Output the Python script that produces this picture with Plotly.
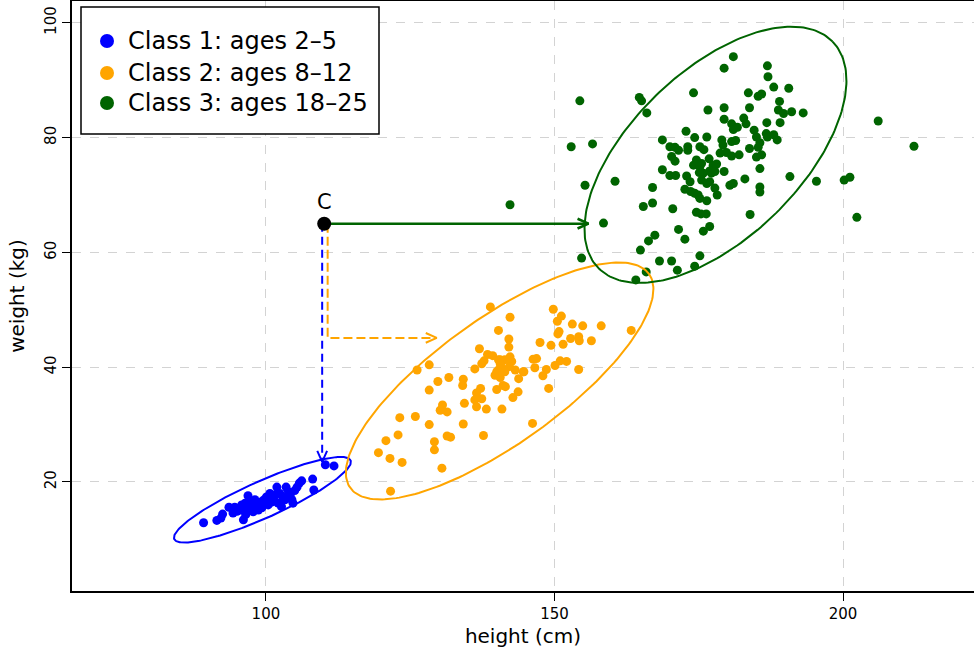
import numpy as np
import plotly.graph_objects as go

# ---- measurements: height (cm), weight (kg) ----
class1_height = [89.2, 91.5, 92.2, 92.5, 93.6, 95.0, 96.1, 96.5, 95.8, 96.4, 96.9, 97.2, 97.8,
                 98.1, 98.7, 99.3, 100.1, 100.4, 100.7, 101.3, 101.9, 102.1, 102.7, 102.4,
                 103.5, 103.9, 104.5, 104.7, 105.0, 105.8, 106.2, 108.1, 108.3, 110.3, 111.8,
                 94.6, 95.5, 97.6, 98.3, 99.3, 99.7, 101.0, 102.9, 103.3, 104.2, 96.7, 98.8,
                 101.6, 94.3, 105.4]
class1_weight = [12.9, 13.3, 13.7, 14.4, 15.6, 14.9, 13.4, 14.3, 16.0, 16.3, 17.6, 15.7, 14.8,
                 16.9, 15.1, 16.6, 17.4, 16.0, 18.0, 17.2, 19.1, 16.3, 15.7, 18.0,
                 19.1, 18.3, 16.9, 16.3, 18.5, 19.8, 20.2, 20.5, 18.6, 23.0, 22.8,
                 15.6, 15.1, 16.5, 15.6, 15.5, 16.9, 16.5, 17.4, 16.9, 17.7, 15.1, 16.0,
                 17.7, 14.6, 19.1]

class2_height = [138.9, 140.3, 137.0, 138.4, 139.3, 137.8, 137.4, 136.2, 140.3, 140.0, 139.7,
                 128.3, 126.2, 129.8, 131.7, 134.2, 134.1, 128.3, 140.0, 137.2, 136.5, 136.2,
                 136.5, 137.4, 134.4, 130.6, 130.2, 131.4, 138.2, 123.2, 125.9, 128.3, 134.2,
                 122.9, 120.8, 131.4, 132.0, 137.7, 129.2, 129.2, 119.5, 121.5, 123.6, 130.5,
                 121.6, 149.8, 151.2, 150.5, 153.1, 154.9, 158.1, 163.3, 142.3, 150.8, 150.6,
                 152.8, 154.2, 154.3, 156.4, 142.1, 142.1, 147.5, 149.4, 151.5, 140.6, 141.4,
                 142.3, 142.6, 146.3, 146.9, 151.0, 152.1, 150.1, 146.6, 148.6, 154.2, 140.6,
                 143.2, 143.8, 144.6, 148.0, 141.1, 141.5, 143.7, 142.8, 149.0, 140.9, 146.2,
                 140.6, 142.2, 140.3, 140.8, 141.4, 144.7]
class2_weight = [50.5, 46.4, 43.2, 42.2, 42.0, 41.1, 40.6, 39.7, 41.3, 39.2, 38.6,
                 40.4, 39.5, 37.5, 38.2, 37.9, 36.8, 36.0, 36.1, 36.3, 35.5, 34.3,
                 33.1, 34.5, 33.7, 33.4, 32.5, 32.2, 32.7, 31.2, 31.4, 30.0, 30.1,
                 28.2, 27.2, 28.0, 27.8, 28.1, 27.0, 25.6, 25.1, 24.1, 23.4, 22.4,
                 18.4, 50.1, 48.9, 48.0, 47.5, 47.2, 47.2, 46.4, 48.7, 46.2, 45.8,
                 45.0, 45.3, 44.6, 44.6, 44.9, 43.5, 44.3, 43.8, 44.0, 41.3, 41.3,
                 41.8, 41.0, 41.4, 41.5, 41.1, 41.0, 40.3, 39.9, 39.6, 39.6, 38.2,
                 39.5, 38.0, 39.2, 38.5, 36.8, 36.6, 35.7, 34.7, 36.3, 32.7, 30.2,
                 40.6, 40.1, 39.5, 40.1, 39.2, 39.2]

class3_height = [154.4, 164.7, 165.1, 166.0, 174.1, 176.6, 152.9, 156.6, 168.7, 172.8, 174.3,
                 176.4, 170.0, 170.9, 171.5, 170.3, 170.9, 173.1, 173.1, 175.2, 175.9, 168.7,
                 170.0, 171.0, 172.9, 174.1, 174.6, 175.2, 175.8, 176.8, 160.5, 181.0, 179.4,
                 186.9, 187.0, 183.6, 185.3, 185.9, 188.0, 190.6, 189.0, 179.4, 183.8, 188.8,
                 189.7, 191.1, 193.1, 179.4, 180.7, 181.0, 181.7, 182.8, 183.2, 186.8, 189.1,
                 184.6, 185.0, 186.7, 186.9, 188.0, 188.6, 179.0, 180.7, 181.4, 179.2, 185.6,
                 185.3, 183.8, 178.7, 179.8, 180.7, 182.0, 185.0, 185.9, 185.6, 177.5, 176.9,
                 178.1, 179.4, 183.0, 190.8, 195.4, 173.5, 175.1, 175.5, 176.9, 180.4, 181.0,
                 172.6, 173.6, 174.3, 174.9, 175.2, 176.4, 177.8, 178.2, 185.6, 185.6, 167.0,
                 165.4, 167.0, 170.5, 174.6, 175.4, 176.3, 183.9, 155.3, 158.5, 171.5, 172.6,
                 166.3, 167.4, 164.9, 154.7, 168.2, 170.3, 171.3, 175.2, 174.3, 165.9, 164.1,
                 175.8, 176.9, 212.3, 206.1, 200.2, 201.2, 202.4, 142.3, 175.5, 176.4, 177.2,
                 177.8]
class3_weight = [86.4, 87.0, 86.4, 84.3, 87.8, 84.8, 78.4, 78.9, 79.6, 81.1, 80.0,
                 80.1, 78.4, 78.3, 77.8, 76.7, 75.9, 78.4, 77.8, 78.4, 77.9, 74.4,
                 73.4, 73.4, 73.3, 75.2, 76.1, 74.9, 73.8, 76.3, 72.4, 94.1, 92.1,
                 92.5, 90.6, 87.8, 87.2, 87.6, 88.8, 88.6, 86.3, 85.2, 85.2, 84.8,
                 84.2, 84.5, 84.3, 83.2, 82.4, 81.4, 81.8, 83.4, 82.4, 82.6, 82.6,
                 81.3, 80.1, 80.7, 80.1, 80.5, 79.6, 79.6, 79.3, 79.5, 78.7, 79.1,
                 78.3, 78.1, 77.3, 77.4, 76.8, 77.0, 76.6, 77.0, 74.6, 75.2, 74.2,
                 75.4, 74.1, 72.8, 73.2, 72.4, 72.3, 73.9, 72.6, 72.3, 71.7, 72.0,
                 71.0, 70.6, 70.3, 70.0, 69.4, 69.0, 71.2, 70.0, 71.4, 70.5, 71.3,
                 68.0, 68.6, 67.6, 67.0, 66.7, 66.7, 66.6, 71.7, 65.1, 64.0, 62.3,
                 62.0, 63.0, 60.4, 59.0, 58.5, 58.5, 56.9, 59.4, 57.6, 56.6, 55.2,
                 63.7, 64.5, 78.5, 82.9, 72.6, 73.1, 66.1, 68.3, 75.5, 72.0, 73.8,
                 74.1]

class_names = ["Class 1: ages 2\u20135", "Class 2: ages 8\u201312", "Class 3: ages 18\u201325"]
class_colors = ["#0000FF", "#FFA500", "#006400"]

# concentration ellipses: centre x, centre y, semi-major, semi-minor, tilt (deg)
class_ellipses = [
    (99.4, 16.9, 16.75, 3.2, 24.2),
    (140.5, 37.6, 31.9, 10.9, 35.8),
    (177.9, 77.0, 28.3, 14.6, 44.2),
]

# new observation to classify
point_c = (110.1, 65.0)
green_tip = (155.9, 65.0)
blue_x, blue_tip_y = 109.75, 23.5
orange_x, orange_turn_y, orange_tip_x = 110.7, 45.1, 129.6

# plot frame in pixels (used to place the legend box in paper space)
FIG_W, FIG_H = 974, 656
M_L, M_R, M_T, M_B = 72, 0, 1, 65
PLOT_W = FIG_W - M_L - M_R
PLOT_H = FIG_H - M_T - M_B


def px_to_paper(px, py):
    return (px - M_L) / PLOT_W, (FIG_H - M_B - py) / PLOT_H


def ellipse_path(cx, cy, a, b, angle_deg, n=240):
    t = np.linspace(0, 2 * np.pi, n)
    th = np.deg2rad(angle_deg)
    ex = a * np.cos(t)
    ey = b * np.sin(t)
    return cx + ex * np.cos(th) - ey * np.sin(th), cy + ex * np.sin(th) + ey * np.cos(th)


def open_head(tip, direction, length=1.9, half_width=0.85):
    dx, dy = direction
    bx, by = tip[0] - length * dx, tip[1] - length * dy
    px, py = -dy, dx
    return ([bx + half_width * px, tip[0], bx - half_width * px],
            [by + half_width * py, tip[1], by - half_width * py])


fig = go.Figure()

groups = [(class1_height, class1_weight), (class2_height, class2_weight), (class3_height, class3_weight)]
for (hx, wy), col in zip(groups, class_colors):
    fig.add_trace(go.Scatter(x=hx, y=wy, mode="markers", showlegend=False, hoverinfo="skip",
                             marker=dict(color=col, size=9, line=dict(width=0))))

for (cx, cy, a, b, ang), col in zip(class_ellipses, class_colors):
    ex, ey = ellipse_path(cx, cy, a, b, ang)
    fig.add_trace(go.Scatter(x=ex, y=ey, mode="lines", showlegend=False, hoverinfo="skip",
                             line=dict(color=col, width=2)))

# distance arrows from C
fig.add_trace(go.Scatter(x=[point_c[0], green_tip[0]], y=[point_c[1], green_tip[1]], mode="lines",
                         showlegend=False, hoverinfo="skip", line=dict(color="#006400", width=2.6)))
hx, hy = open_head(green_tip, (1, 0))
fig.add_trace(go.Scatter(x=hx, y=hy, mode="lines", showlegend=False, hoverinfo="skip",
                         line=dict(color="#006400", width=2.6)))

fig.add_trace(go.Scatter(x=[blue_x, blue_x], y=[point_c[1], blue_tip_y], mode="lines",
                         showlegend=False, hoverinfo="skip",
                         line=dict(color="#0000FF", width=2, dash="8px,5px")))
hx, hy = open_head((blue_x, blue_tip_y), (0, -1))
fig.add_trace(go.Scatter(x=hx, y=hy, mode="lines", showlegend=False, hoverinfo="skip",
                         line=dict(color="#0000FF", width=2)))

fig.add_trace(go.Scatter(x=[orange_x, orange_x, orange_tip_x], y=[point_c[1], orange_turn_y, orange_turn_y],
                         mode="lines", showlegend=False, hoverinfo="skip",
                         line=dict(color="#FFA500", width=2, dash="9px,4px")))
hx, hy = open_head((orange_tip_x, orange_turn_y), (1, 0))
fig.add_trace(go.Scatter(x=hx, y=hy, mode="lines", showlegend=False, hoverinfo="skip",
                         line=dict(color="#FFA500", width=2)))

fig.add_trace(go.Scatter(x=[point_c[0]], y=[point_c[1]], mode="markers", showlegend=False,
                         hoverinfo="skip", marker=dict(color="black", size=14)))
fig.add_annotation(x=point_c[0], y=68.8, text="C", showarrow=False,
                   font=dict(size=21, color="black"), yanchor="middle")

# legend box drawn in paper space
shapes = []
bx0, by0 = px_to_paper(81, 134)
bx1, by1 = px_to_paper(379, 7)
shapes.append(dict(type="rect", xref="paper", yref="paper", x0=bx0, y0=by0, x1=bx1, y1=by1,
                   line=dict(color="black", width=1.5), fillcolor="white", layer="above"))
row_y = [41, 73, 103]
for name, col, ry in zip(class_names, class_colors, row_y):
    dx, dy = px_to_paper(107, ry)
    shapes.append(dict(type="circle", xref="paper", yref="paper", xsizemode="pixel", ysizemode="pixel",
                       xanchor=dx, yanchor=dy, x0=-7, x1=7, y0=-7, y1=7,
                       fillcolor=col, line=dict(width=0), layer="above"))
    tx, ty = px_to_paper(126, ry)
    fig.add_annotation(xref="paper", yref="paper", x=tx, y=ty, text=name, showarrow=False,
                       xanchor="left", yanchor="middle", font=dict(size=24, color="black"))

fig.update_layout(
    width=FIG_W, height=FIG_H,
    margin=dict(l=M_L, r=M_R, t=M_T, b=M_B),
    plot_bgcolor="white", paper_bgcolor="white",
    font=dict(family="DejaVu Sans", color="black"),
    showlegend=False,
    shapes=shapes,
)
fig.update_xaxes(range=[66.4, 222.7], tickvals=[100, 150, 200], showgrid=True, gridcolor="#D3D3D3",
                 griddash="dash", gridwidth=1, zeroline=False, showline=True, linecolor="black",
                 linewidth=1.5, mirror=True, ticks="outside", ticklen=8, tickcolor="black",
                 tickwidth=1.2, tickfont=dict(size=15),
                 title=dict(text="height (cm)", font=dict(size=20), standoff=7))
fig.update_yaxes(range=[1.0, 103.8], tickvals=[20, 40, 60, 80, 100], showgrid=True, gridcolor="#D3D3D3",
                 griddash="dash", gridwidth=1, zeroline=False, showline=True, linecolor="black",
                 linewidth=1.5, mirror=False, ticks="outside", ticklen=8, tickcolor="black",
                 tickwidth=1.2, tickangle=-90, tickfont=dict(size=15),
                 title=dict(text="weight (kg)", font=dict(size=20), standoff=12))

fig.write_html("out.html")
